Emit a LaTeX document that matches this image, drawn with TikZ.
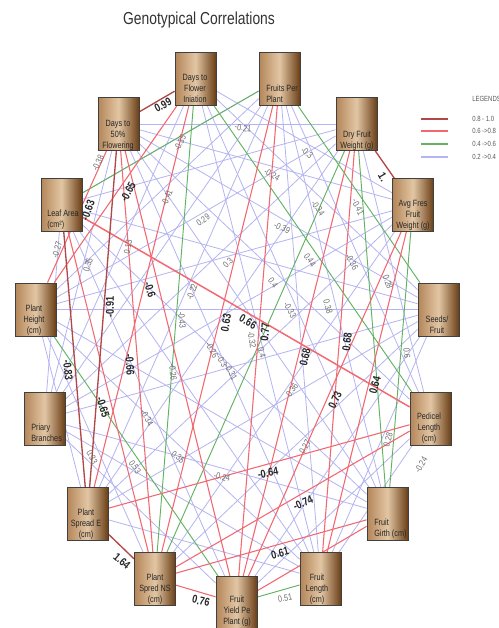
\documentclass[tikz,border=0pt]{standalone}
\usepackage{fontspec}
\setmainfont{Liberation Sans}
\newfontfamily\narrowfont[FakeStretch=0.8]{Liberation Sans}
\definecolor{dred}{HTML}{B04848}
\definecolor{rred}{HTML}{F26870}
\definecolor{ggreen}{HTML}{62B262}
\definecolor{lav}{HTML}{B4B4F2}
\definecolor{boxL}{HTML}{B48659}
\definecolor{boxM}{HTML}{E2C6A4}
\definecolor{boxR}{HTML}{6A3E16}
\definecolor{lblgray}{HTML}{6E6E6E}
\begin{document}
\begin{tikzpicture}[x=0.75pt,y=-0.75pt,
  box/.style={draw={black!75}, line width=0.6pt, minimum width=30.75pt, minimum height=39.75pt, inner sep=0pt,
    left color=boxL, right color=boxR, middle color=boxM},
  boxtxt/.style={font=\narrowfont\fontsize{6.8}{8.2}\selectfont, text=black!85, align=center, inner sep=0pt},
  dr/.style={draw=dred, line width=1pt},
  rd/.style={draw=rred, line width=0.8pt},
  gr/.style={draw=ggreen, line width=0.7pt},
  lv/.style={draw=lav, line width=0.6pt},
  bl/.style={font=\narrowfont\bfseries\fontsize{8.5}{9}\selectfont, text=black!85, inner sep=0pt},
  gl/.style={font=\narrowfont\fontsize{6.8}{8}\selectfont, text=lblgray, inner sep=0pt},
  lg/.style={font=\narrowfont\fontsize{5.6}{6.5}\selectfont, text=black!65, anchor=west, inner sep=0pt}]
\useasboundingbox (0,0) rectangle (499,628);
\clip (0,0) rectangle (499,628);
\fill[white] (0,0) rectangle (499,628);

% boxes
\node[box] (A) at (195.5,79) {};
\node[box] (B) at (279.5,79) {};
\node[box] (C) at (118.5,124) {};
\node[box] (D) at (356.5,124) {};
\node[box] (E) at (61.5,205) {};
\node[box] (F) at (413,205) {};
\node[box] (G) at (35.5,309.5) {};
\node[box] (H) at (438.5,309.5) {};
\node[box] (I) at (44.5,419) {};
\node[box] (J) at (430.5,419) {};
\node[box] (K) at (87.5,514) {};
\node[box] (L) at (387.5,514) {};
\node[box] (M) at (155,579) {};
\node[box] (N) at (320.5,579) {};
\node[box] (O) at (236.5,603) {};

% lavender connectors
\foreach \a/\b in {C/D,C/F,C/H,C/J,C/N,C/L,A/F,A/H,A/L,A/N,B/E,B/G,B/I,B/K,B/J,B/L,B/N,
  D/E,D/G,D/I,D/K,D/J,E/H,E/L,E/O,E/N,F/G,F/I,F/K,F/M,G/H,G/L,G/M,G/N,G/K,
  H/I,H/K,H/M,H/N,H/O,I/L,I/C,I/E,I/A,I/O,I/N,J/N,J/O,K/N}
  \draw[lv] (\a) -- (\b);
% green connectors
\foreach \a/\b in {E/B,B/H,D/M,D/L,F/L,A/J,A/M,G/O,O/N}
  \draw[gr] (\a) -- (\b);
% red connectors
\foreach \a/\b in {M/O,L/M,J/M,K/J,F/N,F/O,D/N,D/O,B/O,B/M,C/M,C/O,E/M,G/A,G/C,A/K,L/O}
  \draw[rd] (\a) -- (\b);
\draw[rd, line width=1.1pt] (E) -- (J);
% dark red connectors
\foreach \a/\b in {C/A,D/F,K/M,E/K,C/K}
  \draw[dr] (\a) -- (\b);

% redraw boxes on top
\foreach \n in {A,B,C,D,E,F,G,H,I,J,K,L,M,N,O}
  \node[box] at (\n) {};

% box texts
\node[boxtxt] (At) at (195,88) {Days to\\Flower\\Iniation};
\node[boxtxt, anchor=west, align=left] (Bt) at (266,94) {Fruits Per\\Plant};
\node[boxtxt] (Ct) at (118,135) {Days to\\50\%\\Flowering};
\node[boxtxt] (Dt) at (357,141) {Dry Fruit\\Weight (g)};
\node[boxtxt, anchor=west, align=left] (Et) at (47,220) {Leaf Area\\(cm²)};
\node[boxtxt] (Ft) at (413,215) {Avg Fres\\Fruit\\Weight (g)};
\node[boxtxt] (Gt) at (34,320) {Plant\\Height\\(cm)};
\node[boxtxt] (Ht) at (437,325) {Seeds/\\Fruit};
\node[boxtxt, anchor=west, align=left] (It) at (31,433) {Priary\\Branches};
\node[boxtxt] (Jt) at (429,428) {Pedicel\\Length\\(cm)};
\node[boxtxt] (Kt) at (86,524) {Plant\\Spread E\\(cm)};
\node[boxtxt, anchor=west, align=left] (Lt) at (374,529) {Fruit\\Girth (cm)};
\node[boxtxt] (Mt) at (155,589) {Plant\\Spred NS\\(cm)};
\node[boxtxt] (Nt) at (317,589) {Fruit\\Length\\(cm)};
\node[boxtxt] (Ot) at (237,611) {Fruit\\Yield Pe\\Plant (g)};

% bold labels
\node[bl, rotate=28] (b1) at (163,105) {0.99};
\node[bl, rotate=-60] (b2) at (383,177) {1.};
\node[bl, rotate=-40] (b3) at (122,561) {1.64};
\node[bl, rotate=-12] (b4) at (201,601) {0.76};
\node[bl, rotate=15] (b5) at (280,553) {0.61};
\node[bl, rotate=25] (b6) at (303,503) {-0.74};
\node[bl, rotate=10] (b7) at (268,473) {-0.64};
\node[bl, rotate=-72] (b8) at (103,407) {-0.65};
\node[bl, rotate=-84] (b9) at (68,370) {-0.83};
\node[bl, rotate=-86] (b10) at (130,365) {-0.66};
\node[bl, rotate=90] (b11) at (110,307) {-0.91};
\node[bl, rotate=-72] (b12) at (150,290) {-0.6};
\node[bl, rotate=62] (b13) at (128,192) {-0.65};
\node[bl, rotate=70] (b14) at (88,210) {-0.63};
\node[bl, rotate=80] (b15) at (226,323) {0.63};
\node[bl, rotate=-30] (b16) at (248,322) {0.66};
\node[bl, rotate=85] (b17) at (265,332) {0.77};
\node[bl, rotate=77] (b18) at (305,357) {0.68};
\node[bl, rotate=83] (b19) at (347,342) {0.68};
\node[bl, rotate=65] (b20) at (335,400) {0.73};
\node[bl, rotate=75] (b21) at (375,385) {0.64};

% gray labels
\node[gl, rotate=-8] (g1) at (243,128) {-0.21};
\node[gl, rotate=62] (g2) at (180,143) {-0.35};
\node[gl, rotate=65] (g3) at (98,163) {-0.38};
\node[gl, rotate=68] (g4) at (167,198) {-0.41};
\node[gl, rotate=35] (g5) at (203,220) {0.29};
\node[gl, rotate=75] (g6) at (57,250) {-0.27};
\node[gl, rotate=72] (g7) at (88,265) {0.35};
\node[gl, rotate=80] (g8) at (128,247) {0.13};
\node[gl, rotate=45] (g9) at (228,263) {0.3};
\node[gl, rotate=-30] (g10) at (272,175) {-0.24};
\node[gl, rotate=-40] (g11) at (307,153) {-0.3};
\node[gl, rotate=-55] (g12) at (318,208) {-0.34};
\node[gl, rotate=-65] (g13) at (358,207) {-0.41};
\node[gl, rotate=-25] (g14) at (282,228) {-0.39};
\node[gl, rotate=-55] (g15) at (310,260) {0.44};
\node[gl, rotate=-60] (g16) at (352,262) {-0.36};
\node[gl, rotate=-70] (g17) at (388,282) {0.28};
\node[gl, rotate=-55] (g18) at (273,283) {0.4};
\node[gl, rotate=-60] (g19) at (290,310) {-0.33};
\node[gl, rotate=-75] (g20) at (328,307) {0.38};
\node[gl, rotate=70] (g21) at (192,292) {-0.22};
\node[gl, rotate=-85] (g22) at (182,320) {-0.43};
\node[gl, rotate=-85] (g23) at (173,372) {-0.26};
\node[gl, rotate=-60] (g24) at (212,350) {-0.26};
\node[gl, rotate=-60] (g25) at (222,361) {-0.3};
\node[gl, rotate=-60] (g26) at (231,372) {-0.31};
\node[gl, rotate=-80] (g27) at (252,340) {-0.32};
\node[gl, rotate=-75] (g28) at (262,353) {0.4};
\node[gl, rotate=-85] (g29) at (407,353) {0.6};
\node[gl, rotate=55] (g30) at (292,390) {0.36};
\node[gl, rotate=60] (g31) at (305,447) {0.27};
\node[gl, rotate=75] (g32) at (388,440) {0.28};
\node[gl, rotate=60] (g33) at (421,465) {-0.24};
\node[gl, rotate=-60] (g34) at (147,418) {-0.34};
\node[gl, rotate=-63] (g35) at (92,457) {0.33};
\node[gl, rotate=-55] (g36) at (135,467) {0.53};
\node[gl, rotate=-38] (g37) at (178,457) {0.35};
\node[gl, rotate=-12] (g38) at (222,477) {-0.24};
\node[gl, rotate=10] (g39) at (285,598) {0.51};

% title
\node[font=\narrowfont\fontsize{13}{15}\selectfont, text=black!80] (title) at (199,20) {Genotypical Correlations};

% legend
\node[lg] (lgt) at (472,99) {LEGENDS};
\coordinate (s1a) at (421,119); \coordinate (s1b) at (448,119);
\coordinate (s2a) at (421,131); \coordinate (s2b) at (448,131);
\coordinate (s3a) at (421,144); \coordinate (s3b) at (448,144);
\coordinate (s4a) at (421,157); \coordinate (s4b) at (448,157);
\draw[dr] (s1a) -- (s1b);
\draw[rd, line width=1pt] (s2a) -- (s2b);
\draw[gr, line width=1pt] (s3a) -- (s3b);
\draw[lv, line width=1pt] (s4a) -- (s4b);
\node[lg] (lg1) at (472,119) {0.8 - 1.0};
\node[lg] (lg2) at (472,131) {0.6 ->0.8};
\node[lg] (lg3) at (472,144) {0.4 ->0.6};
\node[lg] (lg4) at (472,157) {0.2 ->0.4};
\end{tikzpicture}
\end{document}
